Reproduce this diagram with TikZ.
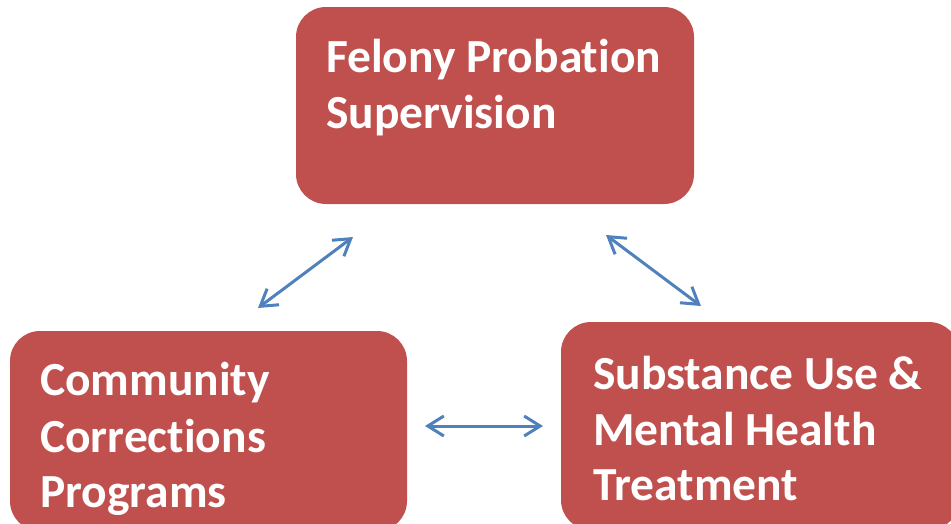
\documentclass[tikz,border=0pt]{standalone}
\usepackage{fontspec}
\setmainfont[Ligatures={NoCommon}]{Carlito}
\usetikzlibrary{arrows.meta}
\definecolor{boxred}{HTML}{C0504D}
\definecolor{arrblue}{HTML}{4F81BD}
\begin{document}
\begin{tikzpicture}[x=1pt,y=-1pt,
 box/.style={fill=boxred, draw=none, rounded corners=30pt, inner sep=0pt},
 lbl/.style={anchor=base west, text=white, font=\fontsize{47.5}{56}\selectfont\bfseries, inner sep=0pt},
 link/.style={arrblue, line width=3pt, {Straight Barb[length=16pt,width=20pt]}-{Straight Barb[length=16pt,width=20pt]}}]
\useasboundingbox (0,0) rectangle (951,523);
\clip (0,0) rectangle (951,523);
\node[box, minimum width=398pt, minimum height=197pt] (top) at (495,105.5) {};
\node[box, minimum width=397pt, minimum height=200pt] (left) at (208.5,431) {};
\node[box, minimum width=398pt, minimum height=208pt] (right) at (760,426) {};
\node[lbl] (t1) at (326,72) {Felony Probation};
\node[lbl] (t2) at (326,128) {Supervision};
\node[lbl] (l1) at (40,395) {Community};
\node[lbl] (l2) at (40,452) {Corrections};
\node[lbl] (l3) at (40,507) {Programs};
\node[lbl] (r1) at (593,389) {Substance Use \&};
\node[lbl] (r2) at (593,445) {Mental Health};
\node[lbl] (r3) at (593,500) {Treatment};
\coordinate (a1s) at (258,308);
\coordinate (a1e) at (353,237);
\coordinate (a2s) at (606,235);
\coordinate (a2e) at (701,306);
\coordinate (a3s) at (425,426);
\coordinate (a3e) at (543,426);
\draw[link] (a1s) -- (a1e);
\draw[link] (a2s) -- (a2e);
\draw[link] (a3s) -- (a3e);
\end{tikzpicture}
\end{document}
